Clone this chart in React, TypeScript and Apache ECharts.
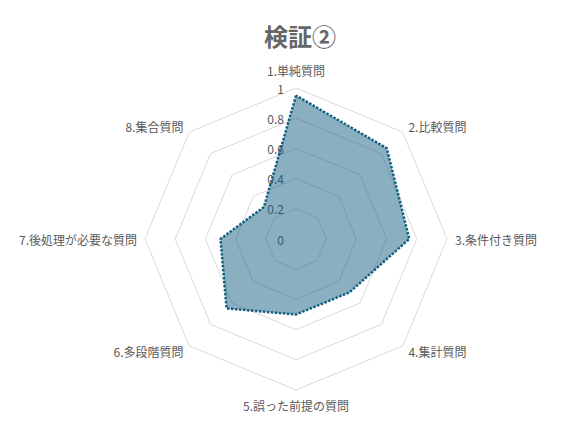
import * as echarts from 'echarts';
import { useEffect, useRef } from 'react';

const categories = [
  '1.単純質問',
  '2.比較質問',
  '3.条件付き質問',
  '4.集計質問',
  '5.誤った前提の質問',
  '6.多段階質問',
  '7.後処理が必要な質問',
  '8.集合質問',
];
const scores = [0.95, 0.85, 0.75, 0.5, 0.5, 0.65, 0.5, 0.3];
const axisMin = 0;
const axisMax = 1;
const splitCount = 5;

const FONT = '"Noto Sans CJK JP", "Noto Sans", sans-serif';
const TEXT = '#595959';

// echarts lays radar axes out counter-clockwise, the reference goes clockwise
const order = categories.map((_, i) => (i === 0 ? 0 : categories.length - i));

export default function App() {
  const elRef = useRef<HTMLDivElement | null>(null);

  useEffect(() => {
    if (!elRef.current) return;
    document.body.style.margin = '0';
    const chart = echarts.init(elRef.current, undefined, { renderer: 'svg' });

    chart.setOption({
      animation: false,
      backgroundColor: '#fff',
      title: {
        text: '検証②',
        left: 295,
        top: 18,
        textAlign: 'center',
        textStyle: { fontFamily: FONT, fontSize: 24, fontWeight: 'bold', color: '#666' },
      },
      radar: {
        center: [296, 239],
        radius: 151,
        startAngle: 90,
        shape: 'polygon',
        splitNumber: splitCount,
        nameGap: 8,
        axisName: { color: TEXT, fontFamily: FONT, fontSize: 12, lineHeight: 14 },
        axisLine: { show: false },
        axisTick: { show: false },
        axisLabel: { show: false },
        splitArea: { show: false },
        splitLine: { lineStyle: { color: '#d9d9d9', width: 1 } },
        indicator: order.map((i) =>
          i === 0
            ? {
                name: categories[i],
                min: axisMin,
                max: axisMax,
                nameGap: 11,
                axisLabel: { show: true, margin: 12, color: TEXT, fontFamily: FONT, fontSize: 12 },
              }
            : { name: categories[i], min: axisMin, max: axisMax }
        ),
      },
      series: [
        {
          type: 'radar',
          symbol: 'none',
          lineStyle: { color: '#156082', width: 2.5, type: [2.5, 1.5] },
          areaStyle: { color: '#156082', opacity: 0.5 },
          data: [{ value: order.map((i) => scores[i]), name: '検証②' }],
        },
      ],
    });

    return () => chart.dispose();
  }, []);

  return <div ref={elRef} style={{ width: 573, height: 424 }} />;
}
